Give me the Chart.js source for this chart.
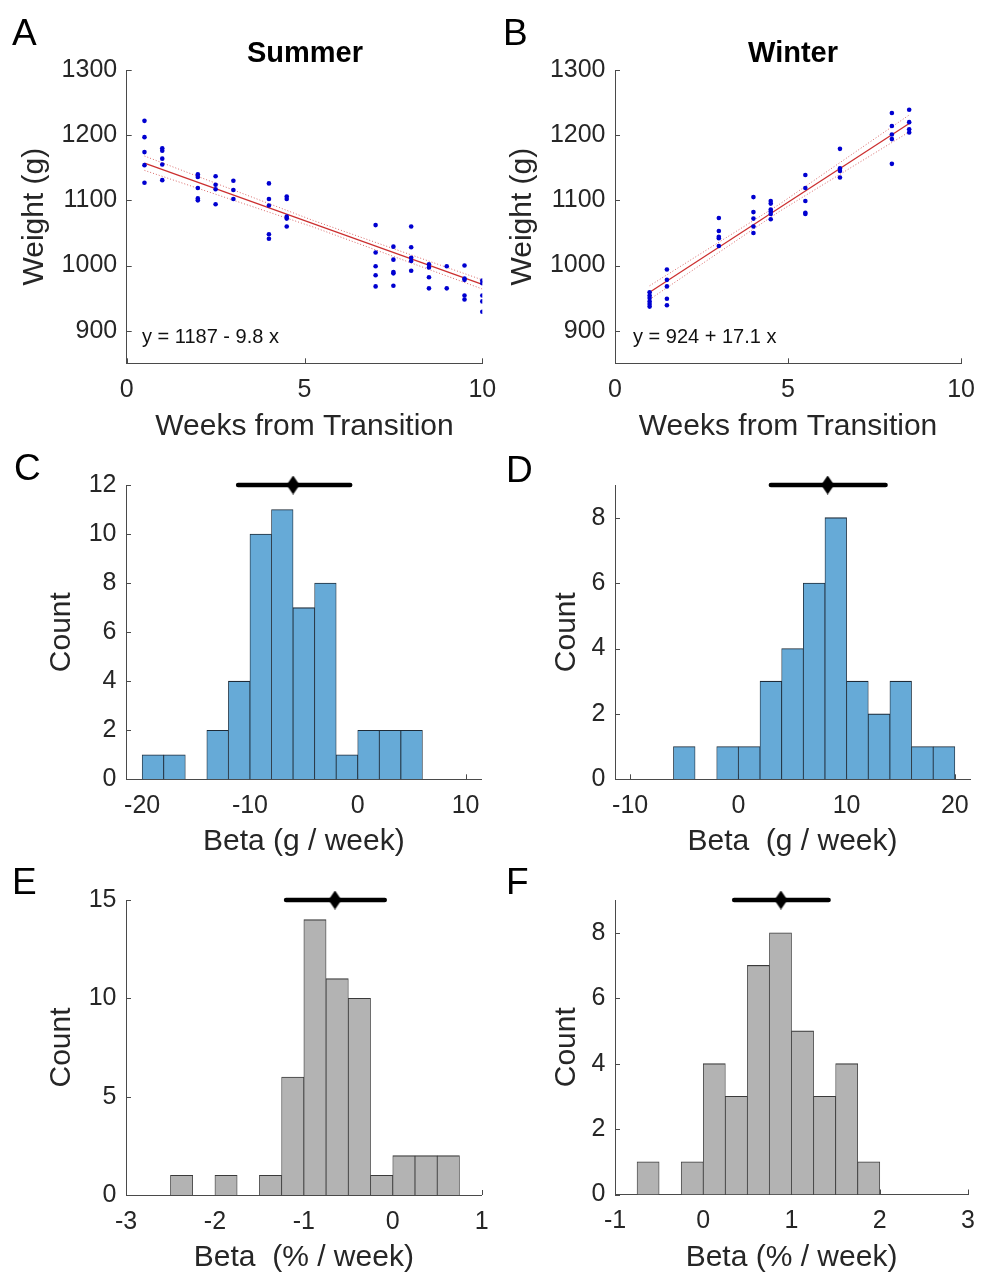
<!DOCTYPE html>
<html><head><meta charset="utf-8">
<script src="https://cdn.jsdelivr.net/npm/chart.js@4.4.1/dist/chart.umd.min.js"></script>
<style>
html,body{margin:0;padding:0;background:#fff;}
#wrap{position:relative;width:987px;height:1275px;overflow:hidden;font-family:"Liberation Sans",Arial,Helvetica,sans-serif;}
canvas{position:absolute;left:0;top:0;}
.lbl{position:absolute;color:#000;font-size:37px;line-height:1;}
.ttl{position:absolute;font-weight:bold;font-size:29px;line-height:1;color:#000;transform:translateX(-50%);white-space:nowrap;}
.eq{position:absolute;font-size:20px;line-height:1;color:#111;white-space:pre;}
</style></head>
<body><div id="wrap">
<canvas id="cA" width="987" height="1275"></canvas>
<canvas id="cB" width="987" height="1275"></canvas>
<canvas id="cC" width="987" height="1275"></canvas>
<canvas id="cD" width="987" height="1275"></canvas>
<canvas id="cE" width="987" height="1275"></canvas>
<canvas id="cF" width="987" height="1275"></canvas>
<div class="lbl" style="left:12px;top:14px">A</div>
<div class="lbl" style="left:503px;top:14px">B</div>
<div class="lbl" style="left:14px;top:449px">C</div>
<div class="lbl" style="left:506px;top:451px">D</div>
<div class="lbl" style="left:12px;top:863px">E</div>
<div class="lbl" style="left:506px;top:863px">F</div>
<div class="ttl" style="left:305px;top:38px">Summer</div>
<div class="ttl" style="left:793px;top:38px">Winter</div>
<div class="eq" style="left:142px;top:326px">y = 1187 - 9.8 x</div>
<div class="eq" style="left:633px;top:326px">y = 924 + 17.1 x</div>
</div>
<script>
// ---------------- DATA ----------------
// Panel A (Summer): weeks and the weights measured at each week
const summerWeeks = [0.5, 1, 2, 2.5, 3, 4, 4.5, 7, 7.5, 8, 8.5, 9, 9.5, 10];
const summerWeights = [
  [1222, 1197, 1174, 1154, 1127],
  [1180, 1176, 1164, 1155, 1131],
  [1140, 1136, 1119, 1103, 1100],
  [1137, 1124, 1117, 1094],
  [1130, 1116, 1102],
  [1126, 1102, 1092, 1048, 1041],
  [1106, 1102, 1075, 1072, 1060],
  [1062, 1020, 999, 985, 968],
  [1029, 1009, 990, 988, 969],
  [1060, 1028, 1012, 1007, 992],
  [1002, 997, 982, 965],
  [999, 965],
  [1000, 980, 978, 954, 948],
  [977, 973, 954, 945, 929]
];
const summerFitX = [0.5, 10];
const summerFitY = [1157, 971];
const summerBandX = [0.5, 5.25, 10];
const summerUpper = [1168, 1069, 978];
const summerLower = [1146, 1059, 964];

// Panel B (Winter)
const winterWeeks = [1, 1.5, 3, 4, 4.5, 5.5, 6.5, 8, 8.5];
const winterWeights = [
  [959, 954, 950, 945, 941, 937],
  [994, 978, 968, 949, 939],
  [1073, 1053, 1044, 1042, 1030],
  [1105, 1082, 1072, 1060, 1050],
  [1099, 1095, 1086, 1083, 1079, 1071],
  [1139, 1119, 1099, 1081, 1079],
  [1179, 1149, 1145, 1135],
  [1234, 1214, 1201, 1194, 1156],
  [1239, 1220, 1209, 1204]
];
const winterFitX = [1, 8.5];
const winterFitY = [959, 1218];
const winterBandX = [1, 4.75, 8.5];
const winterUpper = [969, 1094, 1231];
const winterLower = [948, 1083, 1205];

// Histograms: bin centres and counts
const binsC = [-19, -17, -15, -13, -11, -9, -7, -5, -3, -1, 1, 3, 5];
const countsC = [1, 1, 0, 2, 4, 10, 11, 7, 8, 1, 2, 2, 2];
const binsD = [-5, -3, -1, 1, 3, 5, 7, 9, 11, 13, 15, 17, 19];
const countsD = [1, 0, 1, 1, 3, 4, 6, 8, 3, 2, 3, 1, 1];
const binsE = [-2.375, -2.125, -1.875, -1.625, -1.375, -1.125, -0.875, -0.625, -0.375, -0.125, 0.125, 0.375, 0.625];
const countsE = [1, 0, 1, 0, 1, 6, 14, 11, 10, 1, 2, 2, 2];
const binsF = [-0.625, -0.375, -0.125, 0.125, 0.375, 0.625, 0.875, 1.125, 1.375, 1.625, 1.875];
const countsF = [1, 0, 1, 4, 3, 7, 8, 5, 3, 4, 1];

// Summary bars: [low, mean, high] and the count level they are drawn at
const summaryC = [-11.1, -6.0, -0.7];  const summaryLevelC = 12;
const summaryD = [3.0, 8.25, 13.6];    const summaryLevelD = 9;
const summaryE = [-1.2, -0.65, -0.09]; const summaryLevelE = 15;
const summaryF = [0.35, 0.88, 1.42];   const summaryLevelF = 9;

// Axis ranges and tick labels
const weekRange = [0, 10];   const weightRange = [850, 1300];
const weekTicks = [0, 5, 10]; const weightTicks = [900, 1000, 1100, 1200, 1300];
const rangeXC = [-21.5, 11.5]; const rangeYC = [0, 12];
const ticksXC = [-20, -10, 0, 10]; const ticksYC = [0, 2, 4, 6, 8, 10, 12];
const rangeXD = [-11.4, 21.4]; const rangeYD = [0, 9];
const ticksXD = [-10, 0, 10, 20]; const ticksYD = [0, 2, 4, 6, 8];
const rangeXE = [-3, 1]; const rangeYE = [0, 15];
const ticksXE = [-3, -2, -1, 0, 1]; const ticksYE = [0, 5, 10, 15];
const rangeXF = [-1, 3]; const rangeYF = [0, 9];
const ticksXF = [-1, 0, 1, 2, 3]; const ticksYF = [0, 2, 4, 6, 8];

// ---------------- STYLE / LAYOUT ----------------
const FONT = '"Liberation Sans", Arial, Helvetica, sans-serif';
const AXIS = '#4a4a4a', TXT = '#262626';
const TS = 30, TICK = 25;
const W = 987, H = 1275;

const inTicks = {
  id: 'inTicks',
  beforeDatasetsDraw(chart) {
    const {ctx, chartArea: a, scales: {x, y}} = chart;
    ctx.save();
    ctx.strokeStyle = AXIS; ctx.lineWidth = 1;
    ctx.beginPath();
    x.ticks.forEach(t => { const px = Math.round(x.getPixelForValue(t.value)) + 0.5; ctx.moveTo(px, a.bottom); ctx.lineTo(px, a.bottom - 5); });
    y.ticks.forEach(t => { const py = Math.round(y.getPixelForValue(t.value)) + 0.5; ctx.moveTo(a.left, py); ctx.lineTo(a.left + 5, py); });
    ctx.stroke();
    ctx.restore();
  }
};

function makeScales(p, xr, yr, xt, yt, xTitle, yTitle) {
  const common = {
    type: 'linear', offset: false,
    grid: {display: false, drawTicks: false},
    border: {display: true, color: AXIS, width: 1},
  };
  return {
    x: Object.assign({}, common, {
      min: xr[0], max: xr[1],
      afterFit: s => { s.height = (p.xTitleY + TS / 2) - p.b; },
      afterBuildTicks: s => { s.ticks = xt.map(v => ({value: v})); },
      ticks: {padding: 12, color: TXT, font: {family: FONT, size: TICK}, maxRotation: 0, autoSkip: false, callback: v => String(v)},
      title: {display: true, text: xTitle, color: TXT, font: {family: FONT, size: TS, lineHeight: 1}, padding: 0}
    }),
    y: Object.assign({}, common, {
      min: yr[0], max: yr[1],
      afterFit: s => { s.width = p.l - (p.yTitleX - TS / 2); },
      afterBuildTicks: s => { s.ticks = yt.map(v => ({value: v})); },
      ticks: {padding: 9.5, color: TXT, font: {family: FONT, size: TICK}, autoSkip: false, callback: v => String(v)},
      title: {display: true, text: yTitle, color: TXT, font: {family: FONT, size: TS, lineHeight: 1}, padding: 0}
    })
  };
}

function layoutFor(p) {
  return {padding: {left: p.yTitleX - TS / 2, top: p.t, right: W - p.r, bottom: H - (p.xTitleY + TS / 2)}};
}

function baseOptions(p) {
  return {
    responsive: false, animation: false, devicePixelRatio: 1,
    layout: layoutFor(p),
    plugins: {legend: {display: false}, tooltip: {enabled: false}, title: {display: false}},
    events: []
  };
}

function diamond(w, h) {
  const c = document.createElement('canvas');
  c.width = w; c.height = h;
  const g = c.getContext('2d');
  g.fillStyle = '#000';
  g.beginPath(); g.moveTo(w / 2, 0); g.lineTo(w, h / 2); g.lineTo(w / 2, h); g.lineTo(0, h / 2); g.closePath(); g.fill();
  return c;
}
const DIAMOND = diamond(13, 19);

function scatterPanel(id, p, weeks, weights, fitX, fitY, bandX, upper, lower) {
  const pts = weeks.flatMap((w, i) => weights[i].map(v => ({x: w, y: v})));
  const fit = fitX.map((x, i) => ({x, y: fitY[i]}));
  const up = bandX.map((x, i) => ({x, y: upper[i]}));
  const lo = bandX.map((x, i) => ({x, y: lower[i]}));
  const opts = baseOptions(p);
  opts.scales = makeScales(p, weekRange, weightRange, weekTicks, weightTicks, 'Weeks from Transition', 'Weight (g)');
  new Chart(document.getElementById(id), {
    type: 'scatter',
    data: {datasets: [
      {data: pts, backgroundColor: '#0000d0', borderWidth: 0, pointRadius: 2.3, order: 0},
      {data: fit, showLine: true, borderColor: '#cc3030', borderWidth: 1.3, pointRadius: 0, order: 1},
      {data: up, showLine: true, borderColor: '#d86a6a', borderWidth: 1, borderDash: [1, 2], pointRadius: 0, order: 2},
      {data: lo, showLine: true, borderColor: '#d86a6a', borderWidth: 1, borderDash: [1, 2], pointRadius: 0, order: 2}
    ]},
    options: opts,
    plugins: [inTicks]
  });
}

function histPanel(id, p, bins, counts, summary, level, xr, yr, xt, yt, xTitle, fill, edge) {
  const opts = baseOptions(p);
  opts.scales = makeScales(p, xr, yr, xt, yt, xTitle, 'Count');
  new Chart(document.getElementById(id), {
    type: 'bar',
    data: {datasets: [
      {type: 'scatter', data: [{x: summary[1], y: level}], pointStyle: DIAMOND, pointRadius: 6, clip: false, order: 0},
      {type: 'line', data: [{x: summary[0], y: level}, {x: summary[2], y: level}], borderColor: '#000', borderWidth: 4.5, borderCapStyle: 'round', pointRadius: 0, clip: false, order: 1},
      {type: 'bar', data: bins.map((b, i) => ({x: b, y: counts[i]})), backgroundColor: fill, borderColor: edge,
       borderWidth: {left: 0.8, right: 0.8, top: 1.1, bottom: 0}, borderSkipped: false,
       barPercentage: 1, categoryPercentage: 1, grouped: false, order: 2}
    ]},
    options: opts,
    plugins: [inTicks]
  });
}

const geo = {
  A: {l: 126.7, t: 70, r: 482.3, b: 363.3, yTitleX: 35, xTitleY: 427},
  B: {l: 615, t: 70, r: 969, b: 363.3, yTitleX: 523, xTitleY: 427},
  C: {l: 126, t: 485, r: 481.7, b: 779.3, yTitleX: 62, xTitleY: 842},
  D: {l: 615, t: 485, r: 970, b: 779.3, yTitleX: 567, xTitleY: 842},
  E: {l: 126, t: 900, r: 481.7, b: 1195, yTitleX: 62, xTitleY: 1258},
  F: {l: 615, t: 900, r: 970, b: 1194.5, yTitleX: 567, xTitleY: 1258}
};

const BLUE = '#66aad7', BLUE_EDGE = '#1e2b38', GRAY = '#b3b3b3', GRAY_EDGE = '#3a3a3a';

scatterPanel('cA', geo.A, summerWeeks, summerWeights, summerFitX, summerFitY, summerBandX, summerUpper, summerLower);
scatterPanel('cB', geo.B, winterWeeks, winterWeights, winterFitX, winterFitY, winterBandX, winterUpper, winterLower);
histPanel('cC', geo.C, binsC, countsC, summaryC, summaryLevelC, rangeXC, rangeYC, ticksXC, ticksYC, 'Beta (g / week)', BLUE, BLUE_EDGE);
histPanel('cD', geo.D, binsD, countsD, summaryD, summaryLevelD, rangeXD, rangeYD, ticksXD, ticksYD, 'Beta  (g / week)', BLUE, BLUE_EDGE);
histPanel('cE', geo.E, binsE, countsE, summaryE, summaryLevelE, rangeXE, rangeYE, ticksXE, ticksYE, 'Beta  (% / week)', GRAY, GRAY_EDGE);
histPanel('cF', geo.F, binsF, countsF, summaryF, summaryLevelF, rangeXF, rangeYF, ticksXF, ticksYF, 'Beta (% / week)', GRAY, GRAY_EDGE);
</script>
</body></html>
